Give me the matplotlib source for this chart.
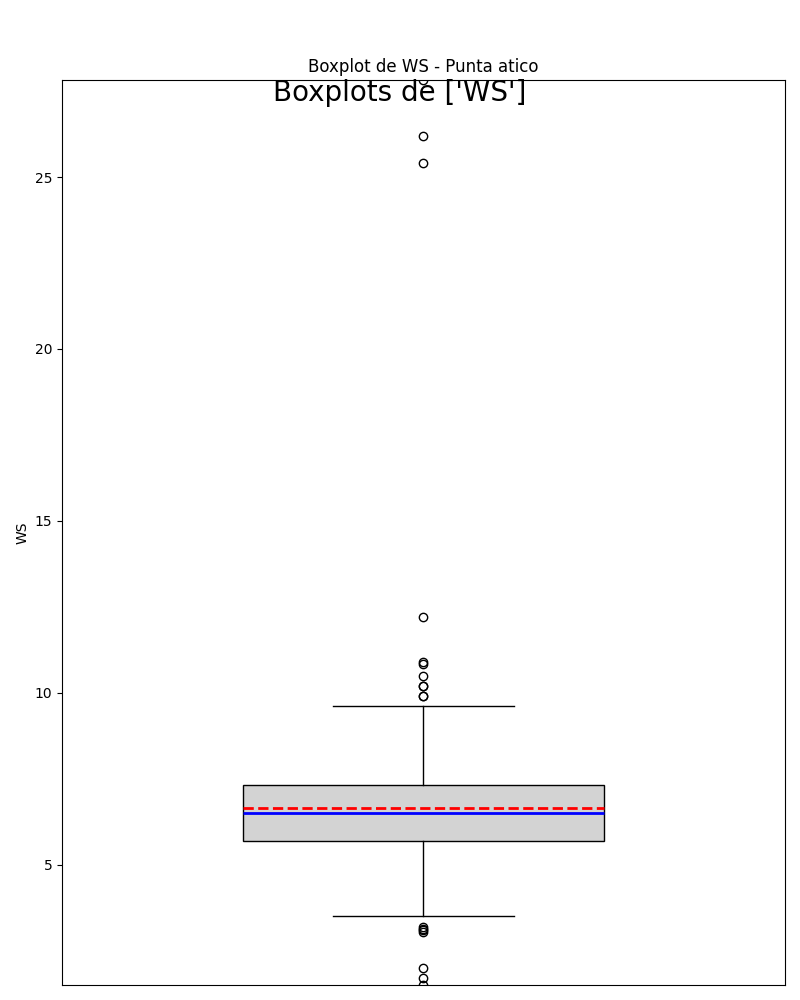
import matplotlib
matplotlib.use("Agg")
import matplotlib.pyplot as plt

variable = "WS"
station = "Punta atico"

q1 = 5.70
median = 6.51
q3 = 7.33
mean = 6.66
whisker_low = 3.52
whisker_high = 9.62
outliers_high = [27.82, 26.2, 25.4, 12.2, 10.9, 10.85, 10.5, 10.2, 10.2, 9.9, 9.9]
outliers_low = [3.2, 3.15, 3.1, 3.05, 2.0, 1.72, 1.51]

fliers = outliers_high + outliers_low
stats = [dict(med=median, q1=q1, q3=q3, whislo=whisker_low, whishi=whisker_high,
              mean=mean, fliers=fliers, label="")]

fig = plt.figure(figsize=(8, 10), dpi=100)
ax = fig.add_axes([0.0775, 0.015, 0.9035, 0.905])
ax.bxp(stats, widths=0.5, patch_artist=True, showmeans=True, meanline=True,
       boxprops=dict(facecolor="lightgray", edgecolor="black"),
       medianprops=dict(color="blue", linewidth=2),
       meanprops=dict(color="red", linestyle="--", linewidth=2),
       flierprops=dict(marker="o", markerfacecolor="none", markeredgecolor="black", markersize=6))
ax.set_ylim(min(fliers), max(fliers))
ax.set_xlim(0.5, 1.5)
ax.set_xticks([])
ax.set_ylabel(variable)
ax.set_title(f"Boxplot de {variable} - {station}", fontsize=12)
fig.suptitle(f"Boxplots de {[variable]}", fontsize=20, y=0.921)
fig.savefig("out.png", dpi=100)
